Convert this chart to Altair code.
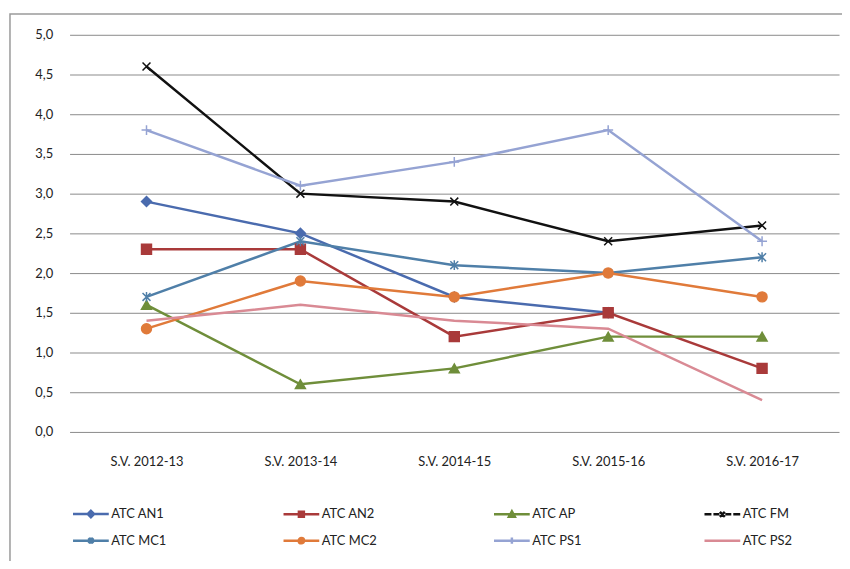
import altair as alt
import pandas as pd

seasons = ["S.V. 2012-13", "S.V. 2013-14", "S.V. 2014-15", "S.V. 2015-16", "S.V. 2016-17"]
series_names = ["ATC AN1", "ATC AN2", "ATC AP", "ATC FM", "ATC MC1", "ATC MC2", "ATC PS1", "ATC PS2"]

an1 = [2.9, 2.5, 1.7, 1.5, None]
an2 = [2.3, 2.3, 1.2, 1.5, 0.8]
ap = [1.6, 0.6, 0.8, 1.2, 1.2]
fm = [4.6, 3.0, 2.9, 2.4, 2.6]
mc1 = [1.7, 2.4, 2.1, 2.0, 2.2]
mc2 = [1.3, 1.9, 1.7, 2.0, 1.7]
ps1 = [3.8, 3.1, 3.4, 3.8, 2.4]
ps2 = [1.4, 1.6, 1.4, 1.3, 0.4]

colors = ["#4A6BAE", "#A93A3A", "#6F8E3A", "#111111", "#4F7FA8", "#E07A3A", "#95A3D3", "#D98A94"]

rows = []
for name, vals in zip(series_names, [an1, an2, ap, fm, mc1, mc2, ps1, ps2]):
    for s, v in zip(seasons, vals):
        if v is not None:
            rows.append({"season": s, "series": name, "value": v})
df = pd.DataFrame(rows)

FONT = "Lato"

# marker shapes on the plot
plot_shapes = [
    "diamond",
    "square",
    "triangle-up",
    "M-0.8,-0.8L0.8,0.8M-0.8,0.8L0.8,-0.8",
    "M-0.8,-0.8L0.8,0.8M-0.8,0.8L0.8,-0.8M0,-1L0,1",
    "circle",
    "M-1,0L1,0M0,-1L0,1",
    "M0,0",
]
# legend symbols: line with marker
LN = "M-1,0L2.6,0"
legend_shapes = [
    LN + "M0.8,-0.32L1.12,0L0.8,0.32L0.48,0Z",
    LN + "M0.55,-0.25L1.05,-0.25L1.05,0.25L0.55,0.25Z",
    LN + "M0.8,-0.3L1.1,0.25L0.5,0.25Z",
    "M-1,0L-0.3,0M-0.1,0L0.5,0M1.1,0L1.7,0M1.9,0L2.6,0M0.55,-0.25L1.05,0.25M0.55,0.25L1.05,-0.25",
    LN + "M0.55,-0.25L1.05,0.25M0.55,0.25L1.05,-0.25M0.8,-0.32L0.8,0.32",
    LN + "M1.07,0A0.27,0.27,0,1,1,0.53,0A0.27,0.27,0,1,1,1.07,0Z",
    LN + "M0.8,-0.32L0.8,0.32",
    LN,
]

x_enc = alt.X("season:N", sort=seasons, title=None,
              scale=alt.Scale(domain=seasons, paddingInner=0, paddingOuter=0.5),
              axis=alt.Axis(labelAngle=0, labelFont=FONT, labelFontSize=13, labelColor="#222222",
                            labelPadding=24, ticks=False, domain=False, grid=False))
y_enc = alt.Y("value:Q", title=None,
              scale=alt.Scale(domain=[0, 5], nice=False),
              axis=alt.Axis(values=[0, 0.5, 1, 1.5, 2, 2.5, 3, 3.5, 4, 4.5, 5],
                            labelExpr="replace(format(datum.value, '.1f'), '.', ',')",
                            labelFont=FONT, labelFontSize=13, labelColor="#222222",
                            labelPadding=17, ticks=False, domain=False,
                            grid=True, gridColor="#8a8a8a", gridWidth=1))

cscale = alt.Scale(domain=series_names, range=colors)

def legend_def():
    return alt.Legend(
        title=None, orient="none", legendX=2, legendY=471, columns=4, direction="horizontal",
        symbolSize=400, symbolStrokeWidth=2.5, labelFont=FONT, labelFontSize=13,
        labelColor="#222222", labelOffset=17, columnPadding=112, rowPadding=7,
        gridAlign="all", padding=0, symbolOpacity=1)

lines = alt.Chart(df).mark_line(strokeWidth=2.5).encode(
    x=x_enc, y=y_enc,
    color=alt.Color("series:N", scale=cscale, legend=None),
    detail="series:N",
)

points = alt.Chart(df).mark_point(filled=True, size=100, strokeWidth=1.5, opacity=1).encode(
    x=x_enc, y=y_enc,
    color=alt.Color("series:N", scale=cscale, legend=None),
    stroke=alt.Stroke("series:N", scale=cscale, legend=None),
    shape=alt.Shape("series:N", scale=alt.Scale(domain=series_names, range=plot_shapes), legend=None),
)

legend_layer = alt.Chart(df).transform_filter("false").mark_point(filled=True, opacity=1).encode(
    x=x_enc, y=y_enc,
    color=alt.Color("series:N", scale=cscale, legend=legend_def()),
    stroke=alt.Stroke("series:N", scale=cscale, legend=legend_def()),
    shape=alt.Shape("series:N", scale=alt.Scale(domain=series_names, range=legend_shapes),
                    legend=legend_def()),
)

frame = alt.Chart(df).mark_rect(fill=None, stroke="#9a9a9a", strokeWidth=1.5).encode(
    x=alt.value(-60), x2=alt.value(900), y=alt.value(-21), y2=alt.value(700)
).transform_filter("datum.series == 'ATC AN1' && datum.season == 'S.V. 2012-13'")

chart = alt.layer(frame, lines, points, legend_layer).resolve_scale(
    color="independent", stroke="independent", shape="independent"
).properties(
    width=775, height=400,
    autosize=alt.AutoSizeParams(type="none"),
    padding={"left": 62, "top": 25, "right": 3, "bottom": 128},
    background="#ffffff",
).configure_view(stroke=None)

chart.save("out.html", embed_options={"renderer": "svg", "actions": False})
